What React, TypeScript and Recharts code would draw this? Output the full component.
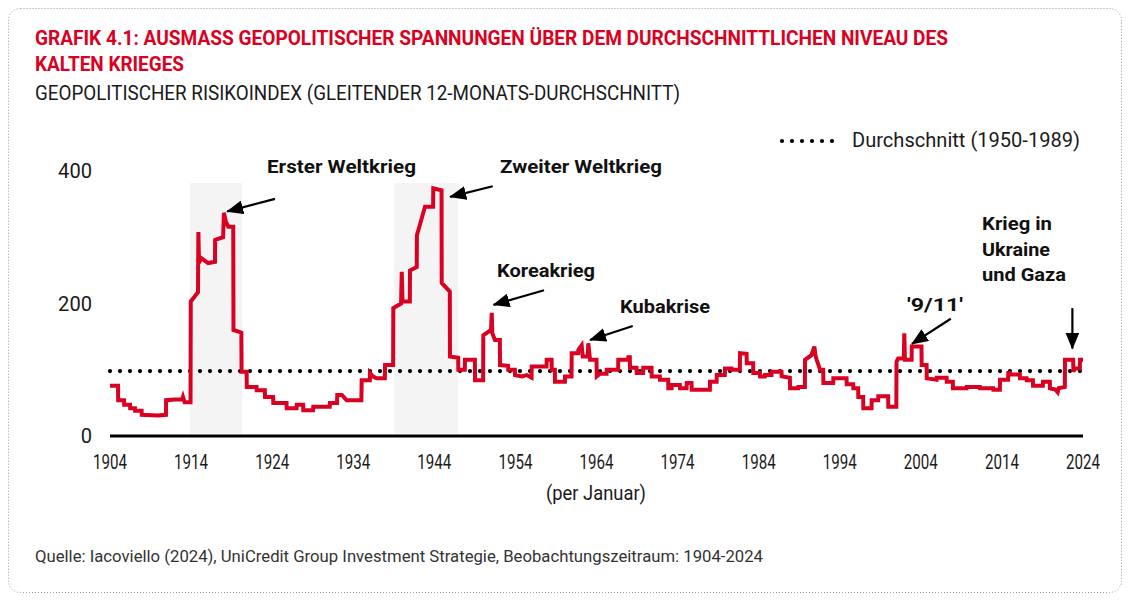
import React from 'react';
import { LineChart, Line, XAxis, YAxis, ReferenceLine, ReferenceArea } from 'recharts';

const years = [
  1904.0, 1904.99, 1905.01, 1905.73, 1905.75, 1906.47, 1906.49, 1907.08, 1907.1, 1907.9,
  1907.92, 1909.9, 1910.9, 1910.92, 1912.0, 1912.9, 1913.0, 1913.2, 1913.93, 1913.96,
  1914.85, 1914.9, 1914.98, 1915.3, 1916.1, 1916.95, 1916.97, 1917.95, 1918.05, 1918.3,
  1918.6, 1919.2, 1919.23, 1920.2, 1920.23, 1920.85, 1920.87, 1922.07, 1922.09, 1923.1,
  1923.12, 1924.12, 1924.14, 1925.77, 1925.79, 1927.01, 1927.03, 1927.82, 1927.84, 1929.05,
  1929.07, 1931.1, 1931.13, 1932.0, 1932.03, 1932.6, 1933.19, 1935.0, 1935.04, 1936.05,
  1936.07, 1936.4, 1936.87, 1937.9, 1937.92, 1938.92, 1938.94, 1939.9, 1939.98, 1940.08,
  1940.98, 1941.0, 1941.83, 1941.85, 1942.2, 1942.85, 1943.85, 1943.87, 1944.89, 1944.91,
  1945.91, 1945.93, 1946.94, 1946.96, 1947.76, 1947.78, 1949.0, 1949.02, 1950.02, 1950.04,
  1950.99, 1951.08, 1951.15, 1951.48, 1952.08, 1952.1, 1953.1, 1953.12, 1953.93, 1953.95,
  1954.78, 1955.4, 1955.99, 1956.01, 1957.84, 1957.86, 1958.46, 1958.48, 1958.86, 1958.88,
  1960.1, 1960.12, 1960.92, 1960.94, 1961.74, 1961.76, 1962.17, 1962.3, 1962.91, 1962.99,
  1963.2, 1964.0, 1964.03, 1964.43, 1965.24, 1965.26, 1966.67, 1966.69, 1967.9, 1967.92,
  1968.11, 1968.13, 1968.94, 1968.96, 1969.75, 1969.77, 1970.79, 1970.81, 1971.81, 1971.83,
  1972.84, 1972.86, 1973.26, 1973.28, 1974.28, 1974.3, 1975.11, 1975.13, 1975.72, 1975.74,
  1977.98, 1978.0, 1978.81, 1978.83, 1979.83, 1979.85, 1980.66, 1980.68, 1981.68, 1981.7,
  1982.51, 1982.53, 1983.32, 1983.34, 1984.15, 1984.17, 1984.76, 1984.78, 1985.59, 1985.61,
  1986.82, 1986.84, 1987.85, 1987.87, 1988.87, 1988.89, 1989.7, 1989.72, 1990.5, 1990.87,
  1991.0, 1991.16, 1991.57, 1991.96, 1991.98, 1993.19, 1993.21, 1994.84, 1994.86, 1995.66,
  1995.68, 1996.27, 1996.29, 1996.89, 1996.91, 1997.92, 1997.94, 1998.74, 1998.76, 1999.97,
  1999.99, 2000.98, 2001.0, 2001.2, 2001.9, 2001.96, 2002.04, 2002.86, 2002.88, 2004.08,
  2004.1, 2004.71, 2004.73, 2005.94, 2005.96, 2007.18, 2007.2, 2007.95, 2007.97, 2009.64,
  2009.66, 2011.28, 2011.3, 2012.92, 2012.94, 2013.75, 2013.77, 2014.77, 2014.79, 2014.98,
  2015.0, 2016.21, 2016.23, 2017.04, 2017.06, 2017.82, 2017.84, 2019.05, 2019.07, 2019.91,
  2019.93, 2020.6, 2020.88, 2021.0, 2021.76, 2021.78, 2022.79, 2022.81, 2023.0, 2023.61,
  2023.63, 2024.0,
];

const values = [
  76, 76, 54, 54, 47, 47, 42, 42, 38, 38,
  32, 31, 32, 54, 55, 55, 59, 51, 51, 203,
  217, 308, 262, 268, 261, 263, 296, 300, 337, 323,
  316, 316, 160, 156, 97, 97, 74, 74, 69, 69,
  59, 59, 50, 50, 42, 42, 47, 47, 39, 39,
  44, 44, 50, 50, 62, 62, 54, 54, 84, 84,
  95, 90, 87, 87, 107, 107, 193, 200, 248, 203,
  203, 250, 255, 303, 318, 346, 346, 374, 371, 231,
  218, 120, 118, 100, 100, 115, 115, 84, 84, 152,
  160, 186, 155, 145, 145, 107, 106, 100, 100, 92,
  90, 92, 88, 105, 105, 115, 115, 100, 100, 82,
  82, 90, 90, 125, 125, 130, 137, 120, 120, 140,
  115, 115, 90, 94, 94, 100, 100, 115, 115, 119,
  119, 103, 103, 95, 95, 103, 103, 90, 90, 85,
  85, 72, 72, 77, 77, 72, 72, 80, 80, 70,
  70, 82, 82, 92, 92, 102, 102, 100, 100, 125,
  124, 110, 110, 95, 95, 90, 90, 92, 92, 97,
  97, 90, 88, 72, 72, 74, 74, 115, 122, 135,
  122, 115, 100, 100, 80, 80, 87, 87, 78, 78,
  72, 72, 59, 59, 42, 42, 54, 54, 60, 60,
  44, 44, 112, 117, 117, 155, 115, 115, 135, 135,
  107, 107, 87, 85, 88, 88, 82, 82, 72, 72,
  74, 74, 72, 72, 70, 70, 85, 85, 95, 95,
  93, 93, 87, 87, 84, 84, 76, 76, 82, 82,
  72, 70, 66, 72, 74, 115, 115, 97, 102, 102,
  115, 115,
];

const xTicks = [1904, 1914, 1924, 1934, 1944, 1954, 1964, 1974, 1984, 1994, 2004, 2014, 2024];
const yTicks = [0, 200, 400];
const average = 98;

const warStart = [1913.87, 1939.03];
const warEnd = [1920.28, 1946.92];

// annotation arrows in data coordinates: from (year, value) to (year, value)
const arrowFromYear = [1924.35, 1951.2, 1957.53, 1968.47, 2007.69, 2022.69];
const arrowFromValue = [358, 377, 220, 166, 177, 193];
const arrowToYear = [1918.45, 1945.95, 1951.3, 1963.2, 2002.9, 2022.69];
const arrowToValue = [339, 361, 198, 145, 139, 132];

const RED = '#DA0021';
const FONT = 'Roboto, "Noto Sans", sans-serif';
const INK = '#1a1a1a';

const XTick = (props: any) => {
  const { x, y, payload } = props;
  return (
    <text x={x} y={y + 33} textAnchor="middle" fontSize={20} fill={INK} fontFamily={FONT}
      textLength={34} lengthAdjust="spacingAndGlyphs">{payload.value}</text>
  );
};

const YTick = (props: any) => {
  const { x, y, payload } = props;
  const s = String(payload.value);
  return (
    <text x={x - 18} y={y} dy="0.35em" textAnchor="end" fontSize={20} fill={INK} fontFamily={FONT}
      textLength={s.length * 11.3} lengthAdjust="spacingAndGlyphs">{s}</text>
  );
};

const ArrowShape = (p: any) => (
  <line x1={p.x1} y1={p.y1} x2={p.x2} y2={p.y2} stroke="#000" strokeWidth={2.2} markerEnd="url(#ah)" />
);

const DotLine = (p: any) => (
  <line x1={p.x1} y1={p.y1} x2={p.x2} y2={p.y2} stroke="#000" strokeWidth={4.2}
    strokeDasharray="0 10" strokeLinecap="round" />
);

export default function App() {
  const data = years.map((year, i) => ({ year, v: values[i] }));
  return (
    <div style={{ position: 'absolute', left: 0, top: 0, width: 1132, height: 601, background: '#fff', overflow: 'hidden' }}>
      <svg width={0} height={0} style={{ position: 'absolute' }}>
        <defs>
          <marker id="ah" markerWidth="18" markerHeight="14" refX="16" refY="7" orient="auto" markerUnits="userSpaceOnUse">
            <path d="M0,0 L17,7 L0,14 Z" fill="#000" />
          </marker>
        </defs>
      </svg>
      <div style={{ position: 'absolute', left: 0, top: 0 }}>
        <LineChart width={1132} height={601} data={data} margin={{ top: 171, right: 49, bottom: 135, left: 50 }}>
          {warStart.map((s, i) => (
            <ReferenceArea key={'w' + i} x1={s} x2={warEnd[i]} y1={4} y2={382} fill="#f4f4f4" fillOpacity={1} stroke="none" ifOverflow="visible" />
          ))}
          <XAxis dataKey="year" type="number" domain={[1904, 2024]} ticks={xTicks} allowDataOverflow
            axisLine={{ stroke: '#000', strokeWidth: 3 }} tickLine={false} tickSize={0} tickMargin={0}
            tick={<XTick />} height={30} interval={0} />
          <YAxis type="number" domain={[0, 400]} ticks={yTicks} axisLine={false} tickLine={false}
            tickSize={0} tickMargin={0} tick={<YTick />} width={60} interval={0} />
          <ReferenceLine y={average} shape={DotLine} ifOverflow="visible" />
          <Line dataKey="v" type="linear" stroke={RED} strokeWidth={4} dot={false} isAnimationActive={false} strokeLinejoin="miter" />
          {arrowFromYear.map((fy, i) => (
            <ReferenceLine key={'a' + i} segment={[{ x: fy, y: arrowFromValue[i] }, { x: arrowToYear[i], y: arrowToValue[i] }]}
              shape={ArrowShape} ifOverflow="visible" />
          ))}
        </LineChart>
      </div>
      <svg width={1132} height={601} style={{ position: 'absolute', left: 0, top: 0, pointerEvents: 'none' }}>
        <rect x={8.5} y={8.5} width={1113} height={584} rx={12} fill="none" stroke="#9a9a9a" strokeDasharray="1 2" />
        <text x={35} y={45} fontSize={21} fontWeight="bold" fill={RED} fontFamily={FONT} textLength={913} lengthAdjust="spacingAndGlyphs">GRAFIK 4.1: AUSMASS GEOPOLITISCHER SPANNUNGEN ÜBER DEM DURCHSCHNITTLICHEN NIVEAU DES</text>
        <text x={35} y={71} fontSize={21} fontWeight="bold" fill={RED} fontFamily={FONT} textLength={149} lengthAdjust="spacingAndGlyphs">KALTEN KRIEGES</text>
        <text x={35} y={100} fontSize={21} fill={INK} fontFamily={FONT} textLength={645} lengthAdjust="spacingAndGlyphs">GEOPOLITISCHER RISIKOINDEX (GLEITENDER 12-MONATS-DURCHSCHNITT)</text>
        <line x1={782} y1={141} x2={842} y2={141} stroke="#000" strokeWidth={4.2} strokeDasharray="0 10" strokeLinecap="round" />
        <text x={852} y={147} fontSize={20} fill={INK} fontFamily={FONT} textLength={228} lengthAdjust="spacingAndGlyphs">Durchschnitt (1950-1989)</text>
        <g fontFamily={FONT} fontWeight="bold" fontSize={19} fill="#111">
          <text x={267} y={173} textLength={149} lengthAdjust="spacingAndGlyphs">Erster Weltkrieg</text>
          <text x={500} y={173} textLength={162} lengthAdjust="spacingAndGlyphs">Zweiter Weltkrieg</text>
          <text x={497} y={277} textLength={98} lengthAdjust="spacingAndGlyphs">Koreakrieg</text>
          <text x={620} y={313} textLength={90} lengthAdjust="spacingAndGlyphs">Kubakrise</text>
          <text x={907} y={311} textLength={56} lengthAdjust="spacingAndGlyphs">'9/11'</text>
          <text x={982} y={230} textLength={70} lengthAdjust="spacingAndGlyphs">Krieg in</text>
          <text x={982} y={256} textLength={68} lengthAdjust="spacingAndGlyphs">Ukraine</text>
          <text x={982} y={281} textLength={84} lengthAdjust="spacingAndGlyphs">und Gaza</text>
        </g>
        <text x={596} y={500} textAnchor="middle" fontSize={20} fill={INK} fontFamily={FONT} textLength={100} lengthAdjust="spacingAndGlyphs">(per Januar)</text>
        <text x={35} y={562} fontSize={17} fill="#333" fontFamily={FONT} textLength={728} lengthAdjust="spacingAndGlyphs">Quelle: Iacoviello (2024), UniCredit Group Investment Strategie, Beobachtungszeitraum: 1904-2024</text>
      </svg>
    </div>
  );
}
